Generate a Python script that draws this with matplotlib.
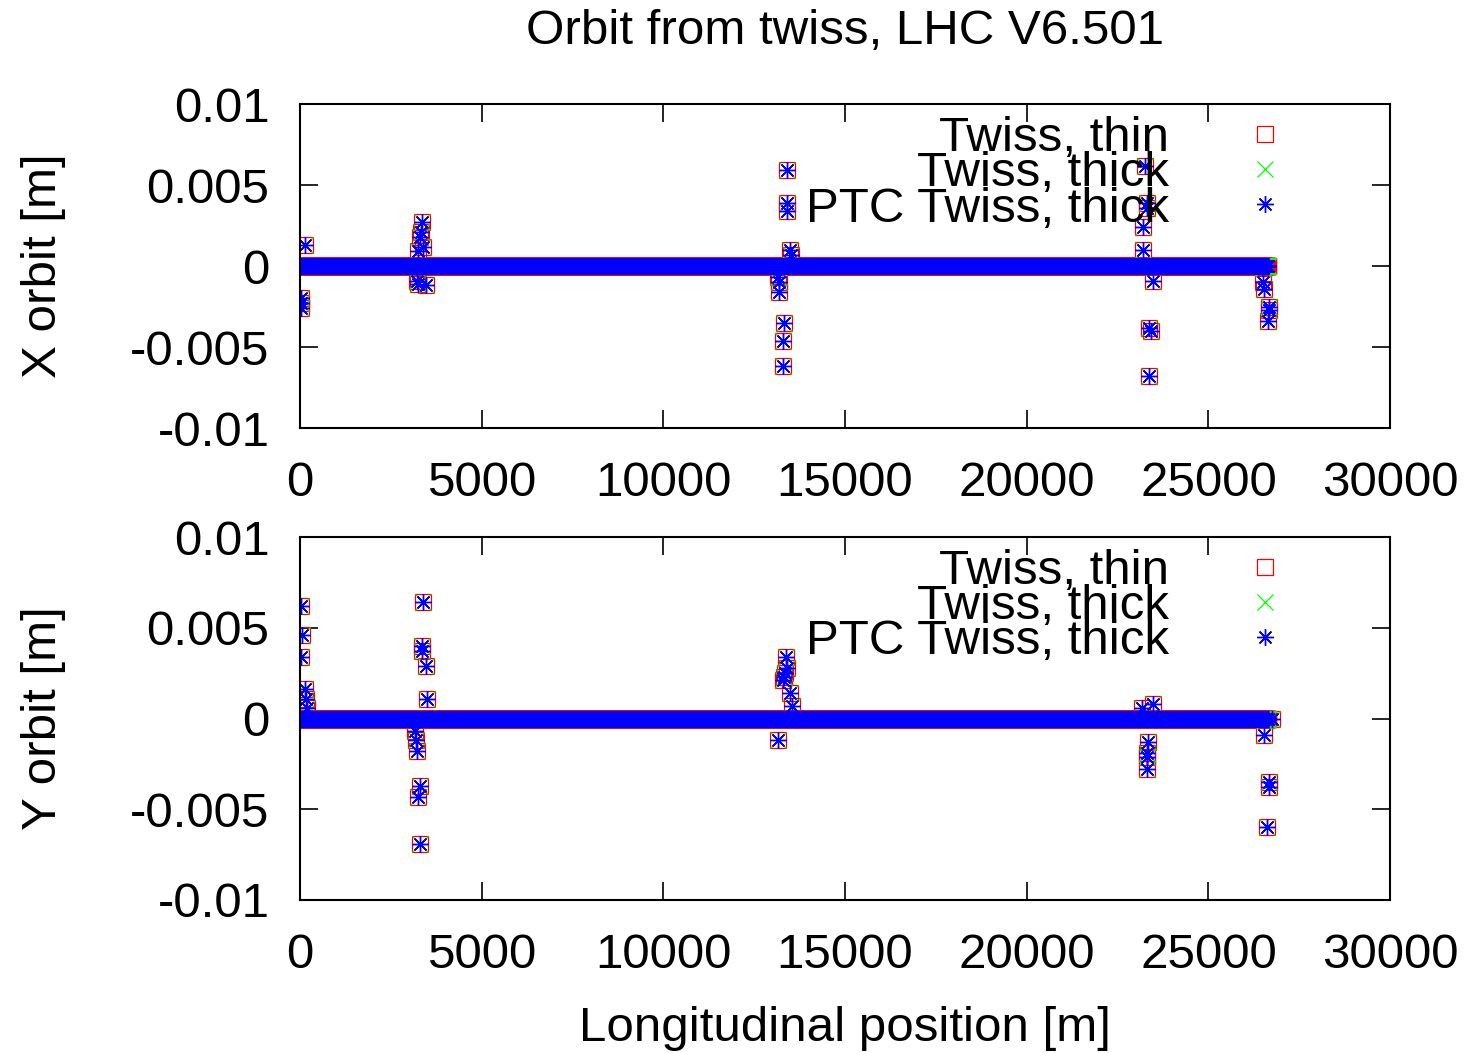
# Orbit from twiss, LHC V6.501 -- gnuplot-like scatter in two panels
import numpy as np
import matplotlib
matplotlib.use('Agg')
import matplotlib.pyplot as plt

plt.rcParams['font.family'] = ['Liberation Sans', 'DejaVu Sans']
plt.rcParams['axes.unicode_minus'] = False

# elements with non-zero horizontal orbit (s [m], x [m])
s_x = [30, 30, 30, 140,
       3360, 3330, 3310, 3390, 3260, 3220, 3480, 3250,
       13410, 13400, 13390, 13490, 13510, 13160, 13180, 13180, 13320, 13290, 13300,
       23260, 23310, 23310, 23200, 23200, 23480, 23370, 23420, 23370,
       26500, 26510, 26530, 26670, 26670, 26640]
x_thin = [-0.0020, -0.0023, -0.0026, 0.0013,
          0.0027, 0.0021, 0.0018, 0.0012, 0.0009, -0.0009, -0.0012, -0.0011,
          0.0059, 0.0039, 0.0034, 0.0010, 0.0007, -0.0007, -0.0010, -0.0016, -0.0035, -0.0046, -0.0062,
          0.0062, 0.0039, 0.0036, 0.0024, 0.0010, -0.0009, -0.0038, -0.0040, -0.0068,
          -0.0001, -0.0010, -0.0014, -0.0025, -0.0027, -0.0034]
x_thick = list(x_thin)
x_ptc = list(x_thin)

# elements with non-zero vertical orbit (s [m], y [m])
s_y = [30, 55, 30, 140, 165, 190,
       3385, 3360, 3360, 3470, 3495, 3165, 3190, 3220, 3300, 3250, 3300,
       13380, 13400, 13330, 13350, 13290, 13490, 13540, 13160,
       23170, 23480, 23340, 23310, 23310, 23300,
       26750, 26530, 26670, 26670, 26620]
y_thin = [0.0062, 0.0046, 0.0034, 0.0016, 0.0011, 0.0006,
          0.0064, 0.0040, 0.0037, 0.0029, 0.0011, -0.0007, -0.0012, -0.0018, -0.0037, -0.0043, -0.0069,
          0.0034, 0.0028, 0.0023, 0.0025, 0.0021, 0.0014, 0.0007, -0.0012,
          0.0006, 0.0008, -0.0013, -0.0019, -0.0021, -0.0028,
          0.0000, -0.0009, -0.0035, -0.0038, -0.0060]
y_thick = list(y_thin)
y_ptc = list(y_thin)

# all other elements around the ring sit on the design orbit (zero)
s_ring = np.arange(0, 26659, 10.0)
zero_orbit = np.zeros_like(s_ring)

xticks = [0, 5000, 10000, 15000, 20000, 25000, 30000]
yticks = [-0.01, -0.005, 0, 0.005, 0.01]
yticklabels = ['-0.01', '-0.005', '0', '0.005', '0.01']

FS = 35.5

fig = plt.figure(figsize=(14.78, 10.53), dpi=100)
ax1 = fig.add_axes([0.2030, 0.5935, 0.7375, 0.3077])
ax2 = fig.add_axes([0.2030, 0.1453, 0.7375, 0.3447])


def draw(ax, s, thin, thick, ptc, ylabel, leg_y):
    s_all = np.concatenate([s_ring, s])
    ax.plot(s_all, np.concatenate([zero_orbit, thin]), ls='none', marker='s', ms=11,
            mfc='none', mec='#ff0000', mew=0.9, label='Twiss, thin')
    ax.plot(s_all, np.concatenate([zero_orbit, thick]), ls='none', marker='x', ms=11,
            mec='#00ff00', mew=0.9, label='Twiss, thick')
    ax.plot(s_all, np.concatenate([zero_orbit, ptc]), ls='none', marker=(8, 2, 0), ms=12,
            mec='#0000ff', mew=1.0, label='PTC Twiss, thick')
    ax.set_xlim(0, 30000)
    ax.set_ylim(-0.01, 0.01)
    ax.set_xticks(xticks)
    ax.set_xticklabels([str(t) for t in xticks])
    ax.set_yticks(yticks)
    ax.set_yticklabels(yticklabels)
    ax.tick_params(direction='in', length=13, width=1.2, labelsize=FS,
                   top=True, right=True)
    ax.tick_params(axis='x', pad=24)
    ax.tick_params(axis='y', pad=22)
    for sp in ax.spines.values():
        sp.set_linewidth(1.5)
    ax.set_ylabel(ylabel, fontsize=FS, labelpad=46)
    ax.legend(loc='upper right', bbox_to_anchor=(0.908, leg_y), frameon=False,
              markerfirst=False, fontsize=FS, labelspacing=-0.2,
              handlelength=1.0, handletextpad=1.44, borderpad=0.0,
              borderaxespad=0.0)


draw(ax1, s_x, x_thin, x_thick, x_ptc, 'X orbit [m]', 0.962)
draw(ax2, s_y, y_thin, y_thick, y_ptc, 'Y orbit [m]', 0.967)

fig.text(0.572, 0.970, 'Orbit from twiss, LHC V6.501', fontsize=FS, ha='center', va='center')
ax2.set_xlabel('Longitudinal position [m]', fontsize=FS, labelpad=20)

fig.savefig('out.png', dpi=100)
